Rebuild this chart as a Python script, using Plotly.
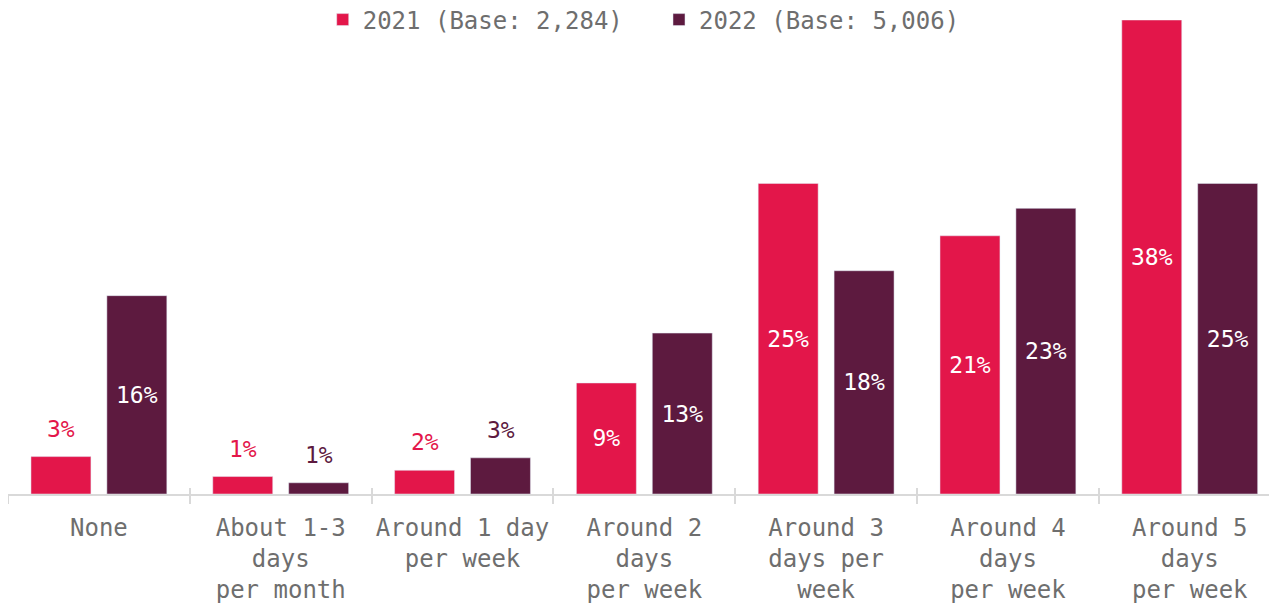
import plotly.graph_objects as go

categories = ["None", "About 1-3<br>days<br>per month", "Around 1 day<br>per week",
              "Around 2<br>days<br>per week", "Around 3<br>days per<br>week",
              "Around 4<br>days<br>per week", "Around 5<br>days<br>per week"]
series_names = ["2021 (Base: 2,284)", "2022 (Base: 5,006)"]
values_2021 = [3.0, 1.4, 1.9, 8.9, 24.9, 20.7, 38.0]
values_2022 = [15.9, 0.9, 2.9, 12.9, 17.9, 22.9, 24.9]
labels_2021 = ["3%", "1%", "2%", "9%", "25%", "21%", "38%"]
labels_2022 = ["16%", "1%", "3%", "13%", "18%", "23%", "25%"]
colors = ["#E3164A", "#5D1A3F"]

FONT = "DejaVu Sans Mono"
INSIDE_MIN = 5

fig = go.Figure()
annotations = []
for name, vals, labs, col, shift, leg in [
    (series_names[0], values_2021, labels_2021, colors[0], -38, "legend"),
    (series_names[1], values_2022, labels_2022, colors[1], 38, "legend2"),
]:
    inside_text = [l if v >= INSIDE_MIN else "" for v, l in zip(vals, labs)]
    fig.add_trace(go.Bar(
        name=name, x=categories, y=vals, marker_color=col, legend=leg,
        text=inside_text, textposition="inside", insidetextanchor="middle",
        textfont=dict(family=FONT, size=23, color="white"),
        textangle=0, hoverinfo="x+y",
    ))
    for c, v, l in zip(categories, vals, labs):
        if v < INSIDE_MIN:
            annotations.append(dict(
                x=c, y=v, xref="x", yref="y", text=l, showarrow=False,
                xshift=shift, yshift=28, yanchor="middle",
                font=dict(family=FONT, size=23, color=col),
            ))

# invisible trace to carry the inner tick marks axis
fig.add_trace(go.Scatter(x=categories, y=[0] * len(categories), xaxis="x2",
                         mode="markers", marker=dict(opacity=0),
                         showlegend=False, hoverinfo="skip"))

legend_font = dict(family=FONT, size=24, color="#6e6e6e")
fig.update_layout(
    width=1269, height=595,
    margin=dict(l=0, r=0, t=12, b=109, autoexpand=False),
    paper_bgcolor="white", plot_bgcolor="white",
    barmode="group", bargap=0.165, bargroupgap=0.21,
    font=dict(family=FONT, size=24, color="#6e6e6e"),
    legend=dict(orientation="h", x=0.248, xanchor="left", y=1.0, yanchor="middle",
                font=legend_font, itemwidth=30),
    legend2=dict(orientation="h", x=0.513, xanchor="left", y=1.0, yanchor="middle",
                 font=legend_font, itemwidth=30),
    annotations=annotations,
    xaxis=dict(type="category", range=[-0.5, 6.48], showgrid=False, automargin=False,
               showline=True, linecolor="#d9d9d9", linewidth=2,
               ticks="outside", tickson="boundaries", ticklen=8,
               tickcolor="#d9d9d9", tickwidth=2, tickangle=0,
               tickfont=dict(family=FONT, size=24, color="#6e6e6e"),
               ticklabelstandoff=11),
    xaxis2=dict(type="category", overlaying="x", matches="x", showgrid=False,
                showline=False, ticks="inside", tickson="boundaries", ticklen=6,
                tickcolor="#d9d9d9", tickwidth=2, showticklabels=False),
    yaxis=dict(range=[0, 38], visible=False, showgrid=False, zeroline=False,
               automargin=False),
)

fig.write_html("out.html")
